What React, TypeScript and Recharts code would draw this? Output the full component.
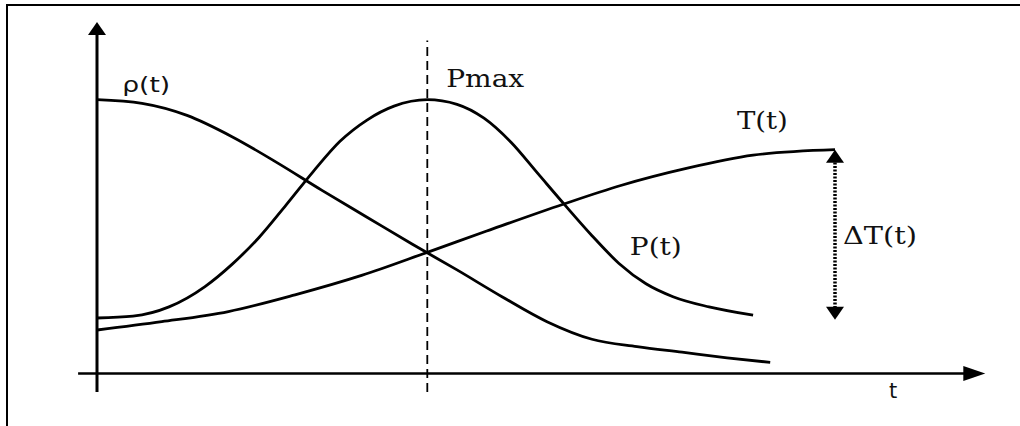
import { LineChart, Line, XAxis, YAxis, ReferenceLine, ReferenceDot } from 'recharts'

// density ρ(t)
const rhoTime = [0, 5, 10, 15, 20, 25, 30, 35, 40, 45, 50, 55, 60, 65, 70, 74.8]
const rhoValues = [29.6, 29.2, 27.9, 25.6, 22.8, 19.8, 16.9, 14.0, 11.2, 8.3, 5.6, 3.7, 2.9, 2.3, 1.7, 1.2]

// power P(t)
const powerTime = [0, 4, 8, 12, 15, 18, 21, 24, 27, 30, 33, 36.7, 40, 43, 46, 49, 52, 55, 58, 61, 64, 68, 72.9]
const powerValues = [6.0, 6.2, 7.2, 9.4, 11.8, 14.7, 18.2, 21.8, 25.1, 27.4, 28.9, 29.6, 29.1, 27.6, 25.0, 21.6, 18.2, 14.9, 11.9, 9.7, 8.3, 7.2, 6.3]

// temperature T(t)
const tempTime = [0, 7.2, 14.6, 22.0, 29.4, 36.7, 43.3, 51.8, 58.1, 65.6, 72.9, 82.0]
const tempValues = [4.7, 5.6, 6.7, 8.5, 10.6, 13.1, 15.4, 18.3, 20.3, 22.2, 23.6, 24.2]

// lower end of the ΔT(t) span
const tempBase = 5.8

const X_MIN = -2
const X_MAX = 99
const Y_MIN = -2
const Y_MAX = 38

const zip = (ts: number[], vs: number[]) => ts.map((t, i) => ({ t, v: vs[i] }))

const rhoData = zip(rhoTime, rhoValues)
const powerData = zip(powerTime, powerValues)
const tempData = zip(tempTime, tempValues)

const peakTime = powerTime[powerValues.indexOf(Math.max(...powerValues))]
const tempEndTime = tempTime[tempTime.length - 1]
const tempEnd = tempValues[tempValues.length - 1]

const INK = '#000'
const SERIF = '"DejaVu Serif", "Liberation Serif", serif'
const SANS = '"DejaVu Sans", sans-serif'

type Pt = { cx?: number; cy?: number }

const arrowUp = (p: Pt) => {
  const { cx = 0, cy = 0 } = p
  return <polygon points={`${cx},${cy} ${cx - 9},${cy + 13} ${cx + 9},${cy + 13}`} fill={INK} />
}
const arrowDown = (p: Pt) => {
  const { cx = 0, cy = 0 } = p
  return <polygon points={`${cx},${cy} ${cx - 9},${cy - 13} ${cx + 9},${cy - 13}`} fill={INK} />
}
const arrowRight = (p: Pt) => {
  const { cx = 0, cy = 0 } = p
  return <polygon points={`${cx},${cy} ${cx - 22},${cy - 7.5} ${cx - 22},${cy + 7.5}`} fill={INK} />
}

function tag(text: string, family: string, size: number, len?: number) {
  return (p: Pt) => (
    <text
      x={p.cx}
      y={p.cy}
      fontFamily={family}
      fontSize={size}
      fill="#111"
      textLength={len}
      lengthAdjust={len ? 'spacingAndGlyphs' : undefined}
    >
      {text}
    </text>
  )
}

export default function App() {
  return (
    <div style={{ position: 'absolute', left: 0, top: 0, width: 1020, height: 426, background: '#fff' }}>
      {/* frame */}
      <div style={{ position: 'absolute', left: 6, top: 4, width: 1014, height: 2, background: INK }} />
      <div style={{ position: 'absolute', left: 6, top: 4, width: 2, height: 422, background: INK }} />

      <LineChart
        width={1020}
        height={426}
        margin={{ top: 22, right: 32, bottom: 34, left: 79 }}
        style={{ position: 'absolute', left: 0, top: 0 }}
      >
        <XAxis type="number" dataKey="t" domain={[X_MIN, X_MAX]} hide allowDataOverflow />
        <YAxis type="number" dataKey="v" domain={[Y_MIN, Y_MAX]} hide allowDataOverflow />

        {/* axes */}
        <ReferenceLine
          segment={[{ x: -2.1, y: 0 }, { x: 97, y: 0 }]}
          stroke={INK}
          strokeWidth={2.6}
          ifOverflow="visible"
        />
        <ReferenceDot x={98.7} y={0} r={0} shape={arrowRight} ifOverflow="visible" />
        <ReferenceLine
          segment={[{ x: 0, y: Y_MIN }, { x: 0, y: 37 }]}
          stroke={INK}
          strokeWidth={3}
          ifOverflow="visible"
        />
        <ReferenceDot x={0} y={Y_MAX} r={0} shape={arrowUp} ifOverflow="visible" />

        {/* Pmax marker */}
        <ReferenceLine
          segment={[{ x: peakTime, y: Y_MIN }, { x: peakTime, y: 36 }]}
          stroke={INK}
          strokeWidth={1.8}
          strokeDasharray="9 5"
          ifOverflow="visible"
        />

        <Line data={rhoData} dataKey="v" type="monotone" stroke={INK} strokeWidth={2.8} dot={false} isAnimationActive={false} />
        <Line data={powerData} dataKey="v" type="monotone" stroke={INK} strokeWidth={2.8} dot={false} isAnimationActive={false} />
        <Line data={tempData} dataKey="v" type="monotone" stroke={INK} strokeWidth={2.8} dot={false} isAnimationActive={false} />

        {/* ΔT(t) span */}
        <ReferenceLine
          segment={[{ x: tempEndTime, y: tempEnd - 1 }, { x: tempEndTime, y: tempBase + 1 }]}
          stroke={INK}
          strokeWidth={3.5}
          strokeDasharray="2 1.5"
          ifOverflow="visible"
        />
        <ReferenceDot x={tempEndTime} y={tempEnd} r={0} shape={arrowUp} ifOverflow="visible" />
        <ReferenceDot x={tempEndTime} y={tempBase} r={0} shape={arrowDown} ifOverflow="visible" />

        {/* labels */}
        <ReferenceDot x={2.8} y={30.4} r={0} shape={tag('ρ(t)', SANS, 22, 48)} ifOverflow="visible" />
        <ReferenceDot x={peakTime + 2.1} y={31} r={0} shape={tag('Pmax', SERIF, 24, 78)} ifOverflow="visible" />
        <ReferenceDot x={71.1} y={26.4} r={0} shape={tag('T(t)', SERIF, 24, 51)} ifOverflow="visible" />
        <ReferenceDot x={59.2} y={12.8} r={0} shape={tag('P(t)', SERIF, 24, 52)} ifOverflow="visible" />
        <ReferenceDot x={tempEndTime + 0.9} y={14} r={0} shape={tag('ΔT(t)', SERIF, 24, 74)} ifOverflow="visible" />
        <ReferenceDot x={88} y={-2.65} r={0} shape={tag('t', SANS, 21)} ifOverflow="visible" />
      </LineChart>
    </div>
  )
}
